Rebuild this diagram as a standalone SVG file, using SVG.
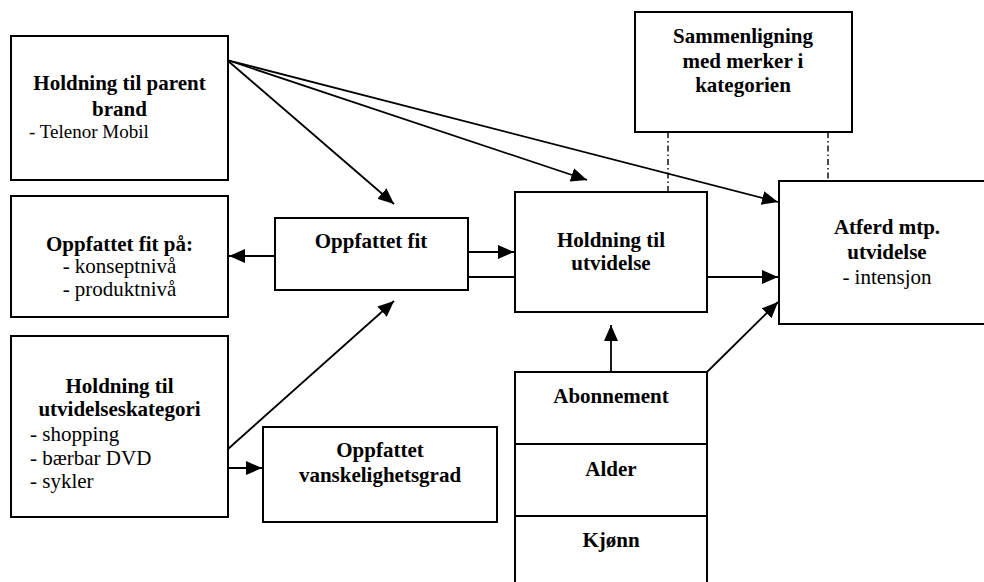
<svg xmlns="http://www.w3.org/2000/svg" width="984" height="582" viewBox="0 0 984 582">
<defs>
<marker id="arr" markerUnits="userSpaceOnUse" markerWidth="16" markerHeight="14" refX="16" refY="7" orient="auto">
<path d="M0,0 L16,7 L0,14 z" fill="#000"/>
</marker>
<style>
.box{fill:#fff;stroke:#000;stroke-width:2}
.t{font-family:"Liberation Serif","Times New Roman",serif;font-size:21px;font-weight:bold;text-anchor:middle;fill:#000}
.s{font-family:"Liberation Serif","Times New Roman",serif;font-size:21px;fill:#000}
.c{fill:none;stroke:#000;stroke-width:1.8}
.a{marker-end:url(#arr)}
.d{fill:none;stroke:#000;stroke-width:1.4;stroke-dasharray:6 3 1.5 3}
</style>
</defs>
<rect width="984" height="582" fill="#fff"/>
<g id="connectors">
<line class="c a" x1="227" y1="60" x2="394" y2="204"/>
<line class="c a" x1="227" y1="60" x2="587" y2="180"/>
<line class="c a" x1="227" y1="60" x2="778" y2="202"/>
<line class="c a" x1="275" y1="256" x2="229" y2="256"/>
<line class="c a" x1="468" y1="252" x2="514" y2="252"/>
<line class="c" x1="468" y1="277" x2="515" y2="277"/>
<line class="c a" x1="707" y1="277" x2="778" y2="277"/>
<line class="c a" x1="228" y1="449" x2="394" y2="301"/>
<line class="c a" x1="228" y1="468" x2="262" y2="468"/>
<line class="c a" x1="611" y1="372" x2="611" y2="325"/>
<line class="c a" x1="707" y1="372" x2="778" y2="302"/>
<line class="d" x1="668" y1="132" x2="668" y2="192"/>
<line class="d" x1="828" y1="132" x2="828" y2="181"/>
</g>
<g id="parent-brand">
<rect class="box" x="11" y="36" width="217" height="144"/>
<text class="t" x="119.5" y="90">Holdning til parent</text>
<text class="t" x="119.5" y="116">brand</text>
<text class="s" x="29" y="138" style="font-size:19px">- Telenor Mobil</text>
</g>
<g id="fit-pa">
<rect class="box" x="11" y="196" width="217" height="121"/>
<text class="t" x="119.5" y="251">Oppfattet fit på:</text>
<text class="s" x="119.5" y="273" text-anchor="middle">- konseptnivå</text>
<text class="s" x="119.5" y="296" text-anchor="middle">- produktnivå</text>
</g>
<g id="utvidelseskategori">
<rect class="box" x="11" y="336" width="217" height="181"/>
<text class="t" x="119.5" y="393">Holdning til</text>
<text class="t" x="119.5" y="416">utvidelseskategori</text>
<text class="s" x="30" y="441">- shopping</text>
<text class="s" x="30" y="465">- bærbar DVD</text>
<text class="s" x="30" y="488">- sykler</text>
</g>
<g id="vanskelighetsgrad">
<rect class="box" x="263" y="427" width="234" height="95"/>
<text class="t" x="380" y="457">Oppfattet</text>
<text class="t" x="380" y="482">vanskelighetsgrad</text>
</g>
<g id="oppfattet-fit">
<rect class="box" x="275" y="218" width="193" height="72"/>
<text class="t" x="371" y="248">Oppfattet fit</text>
</g>
<g id="holdning-utvidelse">
<rect class="box" x="515" y="192" width="192" height="120"/>
<text class="t" x="611" y="247">Holdning til</text>
<text class="t" x="611" y="270">utvidelse</text>
</g>
<g id="sammenligning">
<rect class="box" x="635" y="12" width="217" height="120"/>
<text class="t" x="743" y="43">Sammenligning</text>
<text class="t" x="743" y="68">med merker i</text>
<text class="t" x="743" y="92">kategorien</text>
</g>
<g id="atferd">
<rect class="box" x="779" y="181" width="216" height="143"/>
<text class="t" x="887" y="234">Atferd mtp.</text>
<text class="t" x="887" y="259">utvidelse</text>
<text class="s" x="887" y="284" text-anchor="middle">- intensjon</text>
</g>
<g id="demografi">
<rect class="box" x="515" y="372" width="192" height="220"/>
<line class="box" x1="515" y1="444" x2="707" y2="444"/>
<line class="box" x1="515" y1="516" x2="707" y2="516"/>
<text class="t" x="611" y="403">Abonnement</text>
<text class="t" x="611" y="476">Alder</text>
<text class="t" x="611" y="547">Kjønn</text>
</g>
</svg>
